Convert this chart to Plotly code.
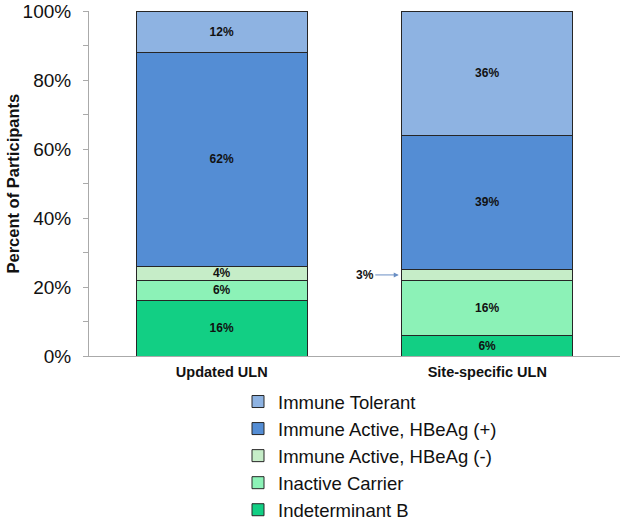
import plotly.graph_objects as go

categories = ["Updated ULN", "Site-specific ULN"]
series_names = ["Indeterminant B", "Inactive Carrier", "Immune Active, HBeAg (-)",
                "Immune Active, HBeAg (+)", "Immune Tolerant"]
indeterminant_b = [16, 6]
inactive_carrier = [6, 16]
immune_active_neg = [4, 3]
immune_active_pos = [62, 39]
immune_tolerant = [12, 36]
y_title = "Percent of Participants"
# labels shown inside the bars (the 3% one is drawn outside with an arrow)
show_inside = {
    "Immune Active, HBeAg (-)": [True, False],
}
colors = ["#12CF84", "#8CF2B7", "#C6EDC8", "#548DD4", "#8EB3E2"]

values = [indeterminant_b, inactive_carrier, immune_active_neg, immune_active_pos, immune_tolerant]

BAR_GAP = 0.356
W, H = 625, 527
ML, MR, MT, MB = 89, 5, 11, 171

fig = go.Figure()
n = len(series_names)
for i, (name, vals, col) in enumerate(zip(series_names, values, colors)):
    flags = show_inside.get(name, [True, True])
    texts = [f"{v}%" if f else "" for v, f in zip(vals, flags)]
    fig.add_trace(go.Bar(
        x=categories, y=vals, name=name, legendgroup=f"g{i}",
        legendrank=(n - i) * 10,
        marker=dict(color=col, line=dict(color="#262626", width=1)),
        text=texts, textposition="inside", insidetextanchor="middle",
        constraintext="none",
        textfont=dict(family="Arial", size=12, color="#111111", weight="bold"),
        textangle=0, hoverinfo="skip",
    ))

# outside label for the 3% segment, arrow pointing at left edge of second bar
base_site = indeterminant_b[1] + inactive_carrier[1]
fig.add_annotation(
    x=1 - (1 - BAR_GAP) / 2, y=base_site + immune_active_neg[1] / 2,
    xref="x", yref="y", text="<b>3%</b>", showarrow=True,
    ax=-37, ay=0, arrowhead=2, arrowsize=1, arrowwidth=1, arrowcolor="#6A8FC4",
    standoff=3,
    font=dict(family="Arial", size=12, color="#111111"),
)

# y-axis title as a rotated annotation
fig.add_annotation(
    x=(12 - ML) / (W - ML - MR), y=0.5, xref="paper", yref="paper",
    text=f"<b>{y_title}</b>", textangle=-90, showarrow=False,
    xanchor="center", yanchor="middle",
    font=dict(family="Arial", size=16.5, color="#111111"),
)

fig.update_layout(
    width=W, height=H,
    barmode="stack", bargap=BAR_GAP,
    plot_bgcolor="white", paper_bgcolor="white",
    margin=dict(l=ML, r=MR, t=MT, b=MB, autoexpand=False),
    font=dict(family="Arial", color="#111111"),
    showlegend=True,
    legend=dict(
        orientation="v", traceorder="grouped",
        xref="container", yref="container",
        x=238 / W, xanchor="left", y=1 - 383 / H, yanchor="top",
        font=dict(family="Arial", size=18.5, color="#111111"),
        itemwidth=30, tracegroupgap=0,
        bgcolor="rgba(0,0,0,0)",
    ),
    xaxis=dict(
        showline=True, linecolor="#AAAAAA", linewidth=1,
        ticks="", tickfont=dict(family="Arial", size=14.5, color="#111111", weight="bold"),
        ticklabelstandoff=3,
        showgrid=False,
    ),
    yaxis=dict(
        range=[0, 100], tickvals=[0, 20, 40, 60, 80, 100],
        ticktext=["0%", "20%", "40%", "60%", "80%", "100%"],
        showline=True, linecolor="#AAAAAA", linewidth=1,
        ticks="outside", ticklen=5, tickcolor="#AAAAAA",
        ticklabelstandoff=8,
        minor=dict(tickvals=[10, 30, 50, 70, 90], ticks="outside", ticklen=5, tickcolor="#AAAAAA"),
        tickfont=dict(family="Arial", size=19, color="#111111"),
        showgrid=False, zeroline=False,
    ),
)

fig.write_html("out.html", config={"displayModeBar": False},
               post_script="document.body.style.margin='0';")
